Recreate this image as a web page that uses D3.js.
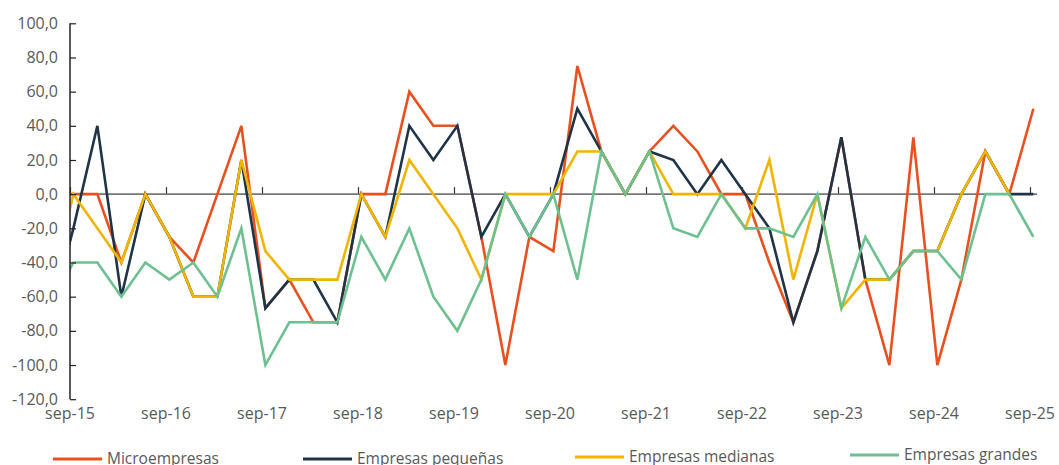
<!DOCTYPE html>
<html>
<head>
<meta charset="utf-8">
<script src="https://cdn.jsdelivr.net/npm/d3@7"></script>
<style>
  body { margin: 0; background: #fff; }
  text { font-family: "Open Sans", sans-serif; fill: #595959; }
</style>
</head>
<body>
<script>
// Quarterly periods (jun-15 sits just left of the axis and gets clipped)
const periods = ["jun-15","sep-15","dic-15","mar-16","jun-16","sep-16","dic-16","mar-17","jun-17","sep-17",
  "dic-17","mar-18","jun-18","sep-18","dic-18","mar-19","jun-19","sep-19","dic-19","mar-20","jun-20",
  "sep-20","dic-20","mar-21","jun-21","sep-21","dic-21","mar-22","jun-22","sep-22","dic-22","mar-23",
  "jun-23","sep-23","dic-23","mar-24","jun-24","sep-24","dic-24","mar-25","jun-25","sep-25"];

const xTickLabels = ["sep-15","sep-16","sep-17","sep-18","sep-19","sep-20","sep-21","sep-22","sep-23","sep-24","sep-25"];
const yTicks = [100, 80, 60, 40, 20, 0, -20, -40, -60, -80, -100, -120];

const micro = [0, 0, 0, -40, 0, -25, -40, 0, 40, -66.7, -50, -75, -75, 0, 0, 60, 40, 40, -25, -100, -25,
  -33.3, 75, 25, 0, 25, 40, 25, 0, 0, -40, -75, -33.3, 33.3, -50, -100, 33.3, -100, -50, 25, 0, 50];
const pequenas = [-75, -20, 40, -60, 0, -25, -60, -60, 20, -66.7, -50, -50, -75, 0, -25, 40, 20, 40, -25, 0, -25,
  0, 50, 25, 0, 25, 20, 0, 20, 0, -20, -75, -33.3, 33.3, -50, -50, -33.3, -33.3, 0, 25, 0, 0];
const medianas = [-60, 0, -20, -40, 0, -25, -60, -60, 20, -33.3, -50, -50, -50, 0, -25, 20, 0, -20, -50, 0, 0,
  0, 25, 25, 0, 25, 0, 0, 0, -20, 20, -50, 0, -66.7, -50, -50, -33.3, -33.3, 0, 25, 0, null];
const grandes = [-67, -40, -40, -60, -40, -50, -40, -60, -20, -100, -75, -75, -75, -25, -50, -20, -60, -80, -50, 0, -25,
  0, -50, 25, 0, 25, -20, -25, 0, -20, -20, -25, 0, -66.7, -25, -50, -33.3, -33.3, -50, 0, 0, -25];

const series = [
  { name: "Microempresas", values: micro, color: "#E9501F" },
  { name: "Empresas pequeñas", values: pequenas, color: "#1F3447" },
  { name: "Empresas medianas", values: medianas, color: "#F1B500" },
  { name: "Empresas grandes", values: grandes, color: "#6DC08F" }
];

const width = 1059, height = 465;
const plot = { left: 70, right: 1037, top: 23.3, bottom: 399.2 };
const pointOffset = 0.14; // points sit slightly right of the tick dates
const legendPos = [
  { x: 53, y: 459 }, { x: 303, y: 459 }, { x: 575, y: 457 }, { x: 850, y: 455 }
];

const svg = d3.select("body").append("svg")
  .attr("width", width)
  .attr("height", height);

const x = d3.scaleLinear()
  .domain([periods.indexOf("sep-15"), periods.indexOf("sep-25")])
  .range([70, 1030]);

const y = d3.scaleLinear()
  .domain([-120, 100])
  .range([plot.bottom, plot.top]);

// clip
svg.append("defs").append("clipPath").attr("id", "plotClip")
  .append("rect")
  .attr("x", plot.left).attr("y", 0)
  .attr("width", plot.right - plot.left + 2).attr("height", height);

// zero line with ticks
const xTickIdx = xTickLabels.map(l => periods.indexOf(l));
const xAxis = svg.append("g")
  .attr("transform", `translate(0,${y(0)})`)
  .call(d3.axisTop(x).tickValues(xTickIdx).tickSize(7).tickFormat(""));
xAxis.select(".domain").remove();
xAxis.selectAll(".tick line").attr("stroke", "#333").attr("stroke-width", 1.2);
xAxis.append("line")
  .attr("x1", plot.left).attr("x2", plot.right)
  .attr("stroke", "#777").attr("stroke-width", 1.8);

// lines
const line = d3.line()
  .defined(d => d.v != null)
  .x(d => x(d.i + pointOffset))
  .y(d => y(d.v));

svg.append("g").attr("clip-path", "url(#plotClip)")
  .selectAll("path")
  .data(series)
  .enter()
  .append("path")
  .attr("fill", "none")
  .attr("stroke", d => d.color)
  .attr("stroke-width", 2.6)
  .attr("stroke-linejoin", "miter")
  .attr("d", d => line(d.values.map((v, i) => ({ i, v }))));

// y axis
const yAxis = svg.append("g")
  .attr("transform", `translate(${plot.left},0)`)
  .call(d3.axisLeft(y).tickValues(yTicks).tickSize(-6).tickPadding(12)
    .tickFormat(d => d.toFixed(1).replace(".", ",")));
yAxis.select(".domain").attr("stroke", "#222").attr("stroke-width", 1.5)
  .attr("d", `M0,${plot.top}V${plot.bottom}`);
yAxis.selectAll(".tick line").attr("stroke", "#222").attr("stroke-width", 1.2);
yAxis.selectAll(".tick text")
  .attr("font-size", 16)
  .attr("font-family", "Open Sans, sans-serif")
  .attr("fill", "#595959");

// x labels at bottom
svg.append("g").selectAll("text")
  .data(xTickLabels)
  .enter()
  .append("text")
  .attr("x", d => x(periods.indexOf(d)))
  .attr("y", 418.5)
  .attr("text-anchor", "middle")
  .attr("font-size", 16)
  .text(d => d);

// legend (text is clipped by the bottom edge, as in the source image)
const legend = svg.append("g").selectAll("g")
  .data(series)
  .enter()
  .append("g")
  .attr("transform", (d, i) => `translate(${legendPos[i].x},${legendPos[i].y})`);

legend.append("line")
  .attr("x1", 0).attr("x2", 49)
  .attr("stroke", d => d.color)
  .attr("stroke-width", 3);

legend.append("text")
  .attr("x", 54)
  .attr("y", 5)
  .attr("font-size", 15.5)
  .text(d => d.name);
</script>
</body>
</html>
